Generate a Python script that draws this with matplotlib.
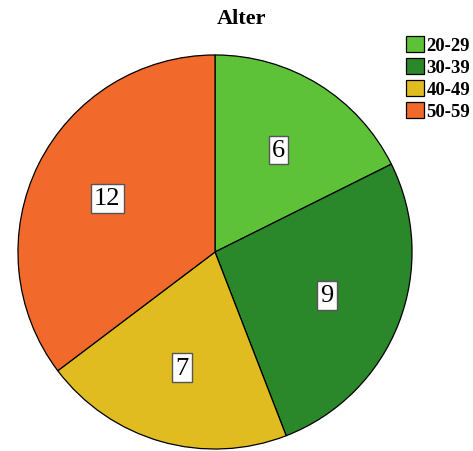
import matplotlib
matplotlib.use("Agg")
from matplotlib import pyplot as plt

# Altersgruppen und Anzahl
groups = ["20-29", "30-39", "40-49", "50-59"]
counts = [6, 9, 7, 12]
colors = ["#5ec238", "#2a872a", "#e0bc20", "#f26a2b"]

plt.rcParams['font.family'] = ['Liberation Serif', 'DejaVu Serif']

W, H = 473, 452
fig = plt.figure(figsize=(W / 100, H / 100), dpi=100)
r = 199
cx, cy = 215, 253
ax = fig.add_axes([(cx - r) / W, (H - cy - r) / H, 2 * r / W, 2 * r / H])

total = sum(counts)
wedges, texts, autotexts = ax.pie(
    counts, colors=colors, startangle=90, counterclock=False, radius=1,
    autopct=lambda p: "%d" % round(p * total / 100), pctdistance=0.61,
    wedgeprops=dict(edgecolor="black", linewidth=0.9),
    textprops=dict(fontsize=19, color="black"))
for t in autotexts:
    t.set_bbox(dict(boxstyle="square,pad=0.12", facecolor="white",
                    edgecolor="#555555", linewidth=1))
ax.set_xlim(-1.01, 1.01)
ax.set_ylim(-1.01, 1.01)
ax.axis("off")

fig.text(0.51, 1 - 19 / H, "Alter", ha="center", va="center",
         fontsize=16, fontweight="bold")

leg = fig.legend(wedges, groups, loc="upper left",
                 bbox_to_anchor=(406 / W, 1 - 37 / H), frameon=False,
                 prop=dict(size=13.5, weight="bold"), borderpad=0,
                 handlelength=0.95, handleheight=0.9, handletextpad=0.15,
                 labelspacing=0.2, borderaxespad=0)

fig.savefig("out.png", dpi=100)
